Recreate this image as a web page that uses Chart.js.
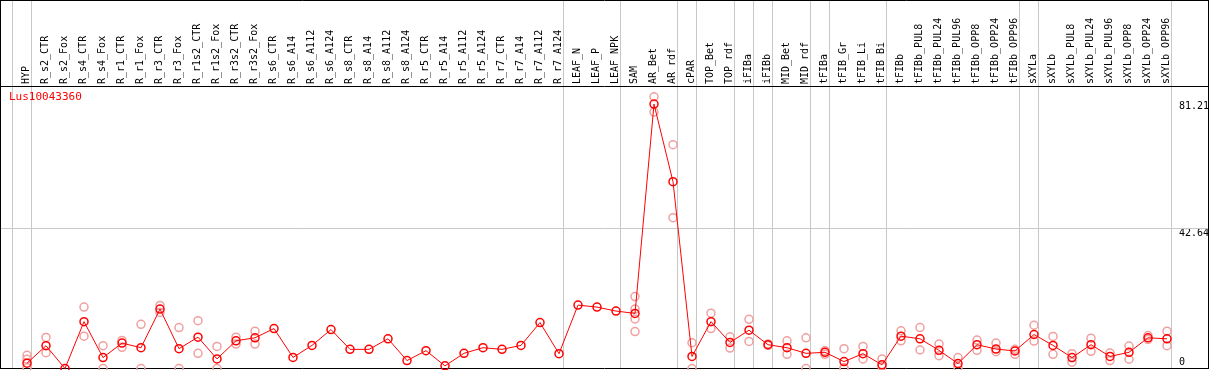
<!DOCTYPE html>
<html>
<head>
<meta charset="utf-8">
<script src="https://cdn.jsdelivr.net/npm/chart.js@4/dist/chart.umd.min.js"></script>
<style>
html,body{margin:0;padding:0;background:#fff;}
canvas{display:block;}
</style>
</head>
<body>
<canvas id="c" width="1209" height="370"></canvas>
<script>
const geneName = 'Lus10043360';

const categories = ['HYP','R_s2_CTR','R_s2_Fox','R_s4_CTR','R_s4_Fox','R_r1_CTR','R_r1_Fox','R_r3_CTR','R_r3_Fox',
  'R_r1s2_CTR','R_r1s2_Fox','R_r3s2_CTR','R_r3s2_Fox','R_s6_CTR','R_s6_A14','R_s6_A112','R_s6_A124',
  'R_s8_CTR','R_s8_A14','R_s8_A112','R_s8_A124','R_r5_CTR','R_r5_A14','R_r5_A112','R_r5_A124',
  'R_r7_CTR','R_r7_A14','R_r7_A112','R_r7_A124','LEAF_N','LEAF_P','LEAF_NPK','SAM','AR_Bet','AR_rdf',
  'cPAR','TOP_Bet','TOP_rdf','iFIBa','iFIBb','MID_Bet','MID_rdf','tFIBa','tFIB_Gr','tFIB_Li','tFIB_Bi',
  'tFIBb','tFIBb_PUL8','tFIBb_PUL24','tFIBb_PUL96','tFIBb_OPP8','tFIBb_OPP24','tFIBb_OPP96',
  'sXYLa','sXYLb','sXYLb_PUL8','sXYLb_PUL24','sXYLb_PUL96','sXYLb_OPP8','sXYLb_OPP24','sXYLb_OPP96'];

const meanValues = [1.6,6.9,0,14.2,3.3,7.7,6.3,18.0,6.0,9.5,2.9,8.4,9.3,12.1,3.35,7.0,11.8,
  5.8,5.8,9.0,2.4,5.4,0.8,4.6,6.3,5.8,7.0,13.9,4.5,19.2,18.6,17.4,16.7,80.1,56.6,
  3.65,14.2,7.9,11.6,7.2,6.3,4.6,4.9,2.1,4.5,1.1,9.8,9.0,5.5,1.5,7.2,5.9,5.3,
  10.3,7.0,3.3,7.2,3.65,4.9,9.3,9.0];

const replicate1 = [4.0,9.4,null,18.6,6.9,8.5,13.4,19.1,12.4,14.5,6.7,9.5,11.3,null,null,null,null,
  null,null,null,null,null,null,null,null,null,null,null,null,null,null,null,21.8,82.3,67.8,
  7.8,16.75,9.6,14.9,7.4,8.4,9.3,5.4,6.0,6.7,2.9,11.4,12.4,7.4,3.3,8.6,7.7,5.8,
  13.1,9.7,4.5,9.2,4.7,6.8,10.0,11.3];

const replicate2 = [2.8,4.8,null,9.8,0,6.4,0,17.0,0,4.6,0,7.4,7.4,null,null,null,null,
  null,null,null,null,null,null,null,null,null,null,null,null,null,null,null,11.2,77.7,45.7,
  0,12.1,6.2,8.2,7.0,4.3,0,4.3,0.2,2.9,0.6,8.4,5.6,3.9,0.4,5.5,5.1,4.3,
  8.3,4.3,1.9,5.2,2.4,2.8,8.8,6.9];

const replicate3 = [0.2,null,null,null,null,null,null,null,null,null,null,null,null,null,null,null,null,
  null,null,null,null,null,null,null,null,null,null,null,null,null,null,null,18.0,null,null,
  null,null,null,null,null,null,null,null,0,null,null,null,null,null,null,null,null,null,
  null,null,null,null,null,null,null,null];

const replicate4 = [null,null,null,null,null,null,null,null,null,null,null,null,null,null,null,null,null,
  null,null,null,null,null,null,null,null,null,null,null,null,null,null,null,15.0,null,null,
  null,null,null,null,null,null,null,null,null,null,null,null,null,null,null,null,null,null,
  null,null,null,null,null,null,null,null];

const yTickValues = [0, 42.64, 81.21];
const yTickLabels = ['0', '42.64', '81.21'];
const yGridValues = [42.64];
const yMax = 85.28;
// group separators drawn just after these category indices
const groupBreaksAfter = [-1, 0, 28, 31, 34, 35, 37, 38, 39, 41, 42, 45, 52, 53, 60];

const MONO = "'DejaVu Sans Mono', 'Liberation Mono', monospace";
const RED = '#ff0000';
const PINK = '#f0a0a0';

const decorPlugin = {
  id: 'decor',
  beforeDatasetsDraw(chart) {
    const ctx = chart.ctx;
    const xs = chart.scales.x, ys = chart.scales.y;
    const W = chart.width;
    const bottom = chart.chartArea.bottom;
    ctx.save();
    ctx.lineWidth = 1;
    ctx.strokeStyle = '#c8c8c8';
    groupBreaksAfter.forEach(i => {
      const x = Math.round(xs.getPixelForValue(i + 0.195)) + 0.5;
      ctx.beginPath(); ctx.moveTo(x, 0); ctx.lineTo(x, bottom); ctx.stroke();
    });
    yGridValues.forEach(v => {
      const y = Math.round(ys.getPixelForValue(v)) + 0.5;
      ctx.beginPath(); ctx.moveTo(1, y); ctx.lineTo(W - 1, y); ctx.stroke();
    });
    // frame
    ctx.strokeStyle = '#000';
    const top = Math.round(chart.chartArea.top) - 0.5;
    const bot = Math.round(bottom) - 0.5;
    ctx.beginPath();
    ctx.moveTo(0, 0.5); ctx.lineTo(W, 0.5);
    ctx.moveTo(0, top); ctx.lineTo(W, top);
    ctx.moveTo(0, bot); ctx.lineTo(W, bot);
    ctx.moveTo(0.5, 0); ctx.lineTo(0.5, bot);
    ctx.moveTo(W - 0.5, 0); ctx.lineTo(W - 0.5, bot);
    ctx.stroke();
    // gene label
    ctx.fillStyle = RED;
    ctx.font = '11px ' + MONO;
    ctx.textBaseline = 'top';
    ctx.textAlign = 'left';
    ctx.fillText(geneName, 9, 92);
    ctx.restore();
  }
};

const repStyle = {
  showLine: false,
  borderColor: PINK,
  pointBorderColor: PINK,
  pointBackgroundColor: 'rgba(0,0,0,0)',
  pointRadius: 4,
  pointBorderWidth: 1.5,
  clip: false
};

new Chart(document.getElementById('c'), {
  type: 'line',
  data: {
    labels: categories,
    datasets: [
      { label: 'mean', data: meanValues, borderColor: RED, borderWidth: 1, tension: 0,
        pointBorderColor: RED, pointBackgroundColor: 'rgba(0,0,0,0)', pointRadius: 4,
        pointBorderWidth: 1.5, clip: false },
      Object.assign({ label: 'rep1', data: replicate1 }, repStyle),
      Object.assign({ label: 'rep2', data: replicate2 }, repStyle),
      Object.assign({ label: 'rep3', data: replicate3 }, repStyle),
      Object.assign({ label: 'rep4', data: replicate4 }, repStyle)
    ]
  },
  options: {
    responsive: false,
    animation: false,
    devicePixelRatio: 1,
    spanGaps: false,
    layout: { autoPadding: false, padding: { left: 27, right: 0, top: 0, bottom: 1.5 } },
    plugins: { legend: { display: false }, tooltip: { enabled: false }, title: { display: false } },
    scales: {
      x: {
        type: 'category',
        position: 'top',
        offset: false,
        border: { display: false },
        grid: { display: false, drawTicks: false },
        ticks: {
          autoSkip: false, maxRotation: 90, minRotation: 90, padding: 3, labelOffset: 11.5,
          color: '#000', font: { family: MONO, size: 10, lineHeight: 1.2 }
        },
        afterFit(s) { s.height = 87; s.paddingLeft = 0; s.paddingRight = 0; s.paddingTop = 0; s.paddingBottom = 0; }
      },
      y: {
        type: 'linear',
        position: 'right',
        min: 0, max: yMax,
        border: { display: false },
        grid: { display: false, drawTicks: false },
        afterBuildTicks(s) { s.ticks = yTickValues.map(v => ({ value: v })); },
        ticks: {
          padding: 12,
          color: '#000',
          font: { family: MONO, size: 10, lineHeight: 1.2 },
          callback(value, index) {
            const t = yTickLabels[index];
            return index === 0 ? [t, ''] : ['', t];
          }
        },
        afterFit(s) { s.width = 42; s.paddingTop = 0; s.paddingBottom = 0; s.paddingLeft = 0; s.paddingRight = 0; }
      }
    }
  },
  plugins: [decorPlugin]
});
</script>
</body>
</html>
